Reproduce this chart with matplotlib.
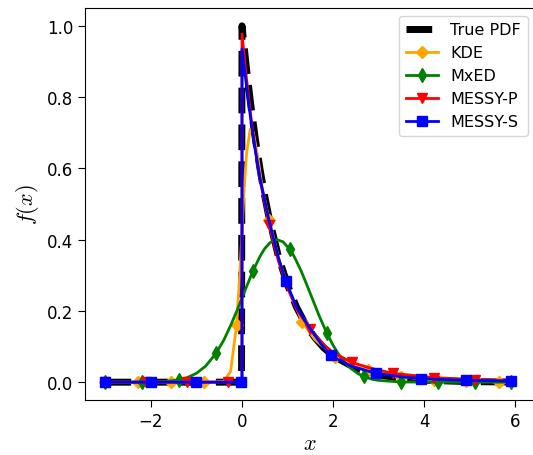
import numpy as np
import matplotlib
matplotlib.use("Agg")
import matplotlib.pyplot as plt

plt.rcParams['mathtext.fontset'] = 'cm'

# true pdf
x_true = [-3.0, -0.01, 0.0, 0.1, 0.2, 0.3, 0.4, 0.5, 0.6, 0.8, 1.0, 1.2, 1.4, 1.6,
          1.8, 2.0, 2.5, 3.0, 3.5, 4.0, 5.0, 6.0]
y_true = [0.0, 0.0, 1.0, 0.878, 0.771, 0.677, 0.595, 0.522, 0.458, 0.353, 0.273,
          0.210, 0.162, 0.125, 0.096, 0.074, 0.039, 0.020, 0.011, 0.0055, 0.0015, 0.0004]

# KDE
x_kde = [-3.0, -2.28, -1.56, -0.84, -0.4, -0.25, -0.12, -0.05, 0.0, 0.05, 0.1, 0.18,
         0.25, 0.35, 0.45, 0.60, 0.8, 1.0, 1.32, 1.6, 2.05, 2.4, 2.77, 3.49, 4.21,
         4.93, 5.65, 6.0]
y_kde = [0.0, 0.0, 0.0, 0.0, 0.002, 0.03, 0.16, 0.30, 0.42, 0.55, 0.64, 0.71,
         0.70, 0.63, 0.54, 0.455, 0.35, 0.27, 0.17, 0.12, 0.07, 0.05, 0.035, 0.015,
         0.006, 0.003, 0.001, 0.0]
kde_marks = [-3.0, -2.28, -1.56, -0.84, -0.12, 0.60, 1.32, 2.05, 2.77, 3.49, 4.21, 4.93, 5.65]

# MxED
x_mxed = [-3.0, -2.19, -1.7, -1.38, -1.2, -1.0, -0.8, -0.57, -0.4, -0.25, -0.1, 0.0,
          0.1, 0.24, 0.4, 0.5, 0.62, 0.77, 0.9, 1.05, 1.15, 1.3, 1.4, 1.5, 1.6,
          1.7, 1.86, 2.0, 2.1, 2.2, 2.3, 2.4, 2.55, 2.68, 2.85, 3.0, 3.49, 4.30,
          5.11, 5.92, 6.0]
y_mxed = [0.0, 0.0002, 0.0018, 0.0066, 0.013, 0.025, 0.045, 0.081, 0.118, 0.159,
          0.204, 0.236, 0.268, 0.312, 0.354, 0.375, 0.392, 0.40, 0.394, 0.373,
          0.352, 0.312, 0.281, 0.249, 0.217, 0.185, 0.139, 0.104, 0.083, 0.065,
          0.05, 0.038, 0.024, 0.016, 0.0085, 0.005, 0.0006, 0.0, 0.0, 0.0, 0.0]
mxed_marks = [-3.0, -2.19, -1.38, -0.57, 0.24, 1.05, 1.86, 2.68, 3.49, 4.30, 5.11, 5.92]

# MESSY-P
x_mp = [-3.0, -2.1, -1.2, -0.3, 0.0, 0.0, 0.1, 0.2, 0.3, 0.4, 0.6, 0.8, 1.0, 1.2,
        1.5, 1.8, 2.0, 2.41, 2.8, 3.31, 4.21, 5.11, 6.0]
y_mp = [0.0, 0.0, 0.0, 0.0, 0.0, 0.977, 0.85, 0.74, 0.645, 0.565, 0.44, 0.34, 0.265,
        0.205, 0.148, 0.105, 0.083, 0.056, 0.04, 0.025, 0.013, 0.007, 0.003]
mp_marks = [-3.0, -2.1, -1.2, -0.3, 0.6, 1.5, 2.41, 3.31, 4.21, 5.11]

# MESSY-S
x_ms = [-3.0, -2.01, -1.02, -0.03, 0.0, 0.0, 0.1, 0.2, 0.3, 0.4, 0.6, 0.8, 0.96,
        1.2, 1.5, 1.75, 1.95, 2.4, 2.94, 3.5, 3.93, 4.92, 5.91, 6.0]
y_ms = [0.0, 0.0, 0.0, 0.0, 0.0, 0.935, 0.83, 0.73, 0.645, 0.57, 0.45, 0.35, 0.285,
        0.21, 0.15, 0.105, 0.075, 0.045, 0.025, 0.015, 0.01, 0.005, 0.003, 0.003]
ms_marks = [-3.0, -2.01, -1.02, -0.03, 0.96, 1.95, 2.94, 3.93, 4.92, 5.91]


def mark_idx(x, marks):
    """Indices of the points that carry a marker (first match only)."""
    idx = []
    for m in marks:
        i = int(np.argmin(np.abs(np.array(x) - m)))
        idx.append(i)
    return idx


fig = plt.figure(figsize=(5.33, 4.56), dpi=100)
ax = fig.add_axes([85 / 533, 55 / 456, 450.5 / 533, 392 / 456])

lw = 2.0
ms = 7.5
ax.plot(x_true, y_true, 'k--', lw=5, label='True PDF')
ax.plot(x_kde, y_kde, color='orange', lw=lw, marker='D', ms=6.5,
        markevery=mark_idx(x_kde, kde_marks), label='KDE')
ax.plot(x_mxed, y_mxed, color='green', lw=lw, marker='d', ms=ms,
        markevery=mark_idx(x_mxed, mxed_marks), label='MxED')
ax.plot(x_mp, y_mp, color='red', lw=lw, marker='v', ms=ms,
        markevery=mark_idx(x_mp, mp_marks), label='MESSY-P')
ax.plot(x_ms, y_ms, color='blue', lw=lw, marker='s', ms=ms,
        markevery=mark_idx(x_ms, ms_marks), label='MESSY-S')

ax.set_xlabel('$x$', fontsize=16, labelpad=2)
ax.set_ylabel('$f(x)$', fontsize=16)
ax.tick_params(labelsize=12, length=5)
ax.legend(fontsize=11.5)

fig.savefig('out.png', dpi=100)
